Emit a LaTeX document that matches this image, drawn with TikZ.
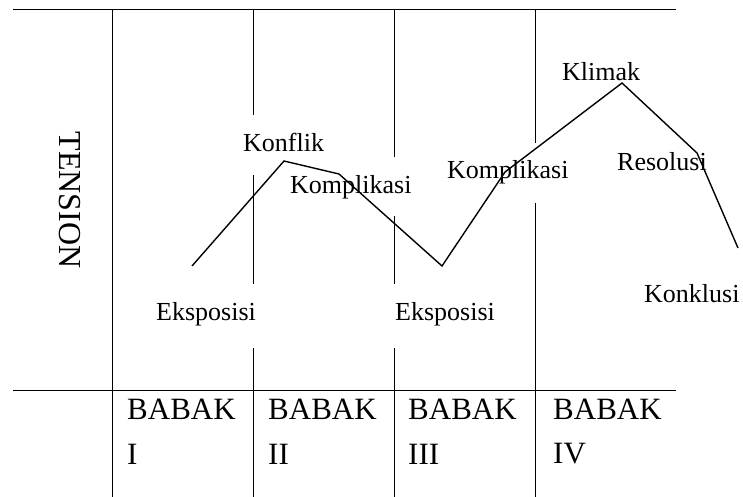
\documentclass[tikz,border=0pt]{standalone}
\usepackage{fontspec}
\setmainfont{Liberation Serif}
\begin{document}
\begin{tikzpicture}[x=1pt,y=-1pt,
  rule/.style={line width=1pt,black},
  plot/.style={line width=1.4pt,black,line join=miter},
  lbl/.style={anchor=base west,inner sep=0pt,font=\fontsize{26}{30}\selectfont},
  act/.style={anchor=base west,inner sep=0pt,font=\fontsize{31}{36}\selectfont},
  axis/.style={inner sep=0pt,font=\fontsize{32}{36}\selectfont,rotate=-90}]
\useasboundingbox (0,0) rectangle (743,497);

% frame: top and bottom rules
\draw[rule] (13,10) -- (676,10);
\draw[rule] (13,390) -- (676,390);

% column separators, interrupted where labels sit
\draw[rule] (112,10) -- (112,497);
\draw[rule] (253,10) -- (253,115) (253,175) -- (253,284) (253,348) -- (253,497);
\draw[rule] (394,10) -- (394,157) (394,216) -- (394,284) (394,348) -- (394,497);
\draw[rule] (535,10) -- (535,143) (535,203) -- (535,497);

% vertical axis label
\node[axis] (tension) at (70,200) {TENSION};

% tension curve
\coordinate (p1) at (192,266);
\coordinate (p2) at (284,161);
\coordinate (p3) at (339,174);
\coordinate (p4) at (442,266);
\coordinate (p5) at (505,172);
\coordinate (p6) at (622,83);
\coordinate (p7) at (697,153);
\coordinate (p8) at (738,248);
\draw[plot] (p1) -- (p2) -- (p3) -- (p4) -- (p5) -- (p6) -- (p7) -- (p8);

% stage labels
\node[lbl] (eks1) at (156,320) {Eksposisi};
\node[lbl] (konf) at (243,152) {Konflik};
\node[lbl] (komp1) at (290,193) {Komplikasi};
\node[lbl] (eks2) at (395,320) {Eksposisi};
\node[lbl] (komp2) at (447,178) {Komplikasi};
\node[lbl] (klim) at (562,81) {Klimak};
\node[lbl] (reso) at (617,171) {Resolusi};
\node[lbl] (konk) at (644,302) {Konklusi};

% act labels
\node[act] (b1) at (127,419) {BABAK};
\node[act] (n1) at (127,464) {I};
\node[act] (b2) at (268,419) {BABAK};
\node[act] (n2) at (268,464) {II};
\node[act] (b3) at (408,419) {BABAK};
\node[act] (n3) at (408,464) {III};
\node[act] (b4) at (553,419) {BABAK};
\node[act] (n4) at (553,463) {IV};
\end{tikzpicture}
\end{document}
